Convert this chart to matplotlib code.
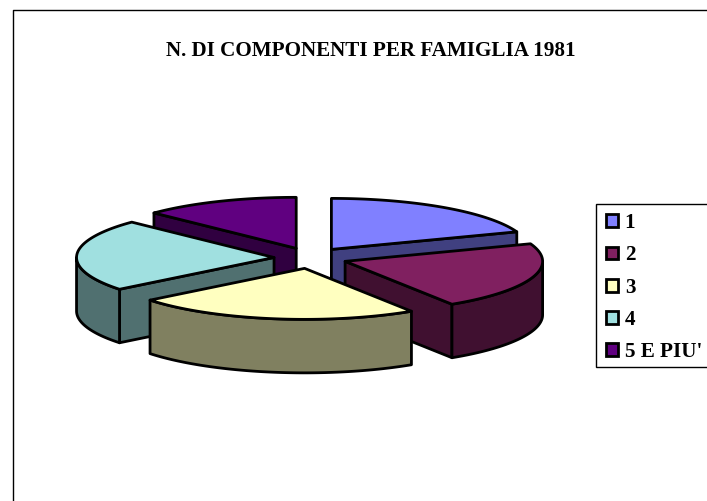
import numpy as np
import matplotlib
matplotlib.use("Agg")
import matplotlib.pyplot as plt
from matplotlib.patches import Polygon, Rectangle

title = "N. DI COMPONENTI PER FAMIGLIA 1981"
categories = ["1", "2", "3", "4", "5 E PIU'"]
values = [19.4, 21.5, 23.4, 22.9, 12.8]
top_colors = ["#8080FF", "#802060", "#FFFFC0", "#A0E0E0", "#600080"]
side_colors = ["#404080", "#401030", "#808060", "#507070", "#300040"]

CX, CY = 310.5, 258.0
RX, RY = 197.5, 51.0
EX, EY = 36.5, 10.5
DEPTH = 53.5
LW = 2.0
FS = 15.2

plt.rcParams["font.family"] = ["Liberation Serif", "DejaVu Serif"]
fig = plt.figure(figsize=(7.07, 5.01), dpi=100, facecolor="white")
ax = fig.add_axes([0, 0, 1, 1])
ax.set_xlim(0, 707)
ax.set_ylim(501, 0)
ax.axis("off")

# outer frame (runs off the right and bottom edges)
ax.plot([13.0, 13.0, 720], [520, 10.0, 10.0], color="black", lw=1.0, clip_on=False)
ax.text(370.5, 50.5, title, ha="center", va="center", fontsize=FS, fontweight="bold")


def pt(t, cx, cy, r=1.0, dz=0.0):
    return cx + RX * r * np.sin(t), cy - RY * r * np.cos(t) + dz


def poly(xs, ys, color, z):
    ax.add_patch(Polygon(np.column_stack([xs, ys]), closed=True, facecolor=color,
                         edgecolor="black", lw=LW, joinstyle="round", zorder=z))


edges = np.radians(np.cumsum([0] + values) / sum(values) * 360)
slices = []
for i in range(len(values)):
    t0, t1 = edges[i], edges[i + 1]
    mid = (t0 + t1) / 2
    cx = CX + EX * np.sin(mid)
    cy = CY - EY * np.cos(mid)
    slices.append((-np.cos(mid), i, t0, t1, cx, cy))

# painter's order, back to front
for order, (_, i, t0, t1, cx, cy) in enumerate(sorted(slices)):
    base = 10 * (order + 1)
    # visible radial cut faces
    for t, normal in ((t0, t0 - np.pi / 2), (t1, t1 + np.pi / 2)):
        if np.cos(normal) < -1e-6:
            rx, ry = pt(t, cx, cy)
            poly([cx, rx, rx, cx], [cy, ry, ry + DEPTH, cy + DEPTH], side_colors[i], base)
    # visible outer wall (front half of the rim)
    a, b = max(t0, np.pi / 2), min(t1, 1.5 * np.pi)
    if b > a:
        ts = np.linspace(a, b, 80)
        xs, ys = pt(ts, cx, cy)
        poly(np.r_[xs, xs[::-1]], np.r_[ys, (ys + DEPTH)[::-1]], side_colors[i], base + 1)
    # top face
    ts = np.linspace(t0, t1, 120)
    xs, ys = pt(ts, cx, cy)
    poly(np.r_[cx, xs], np.r_[cy, ys], top_colors[i], base + 2)

# legend box (runs off the right edge), legend itself is frameless on top of it
ax.add_patch(Rectangle((596, 204), 130, 163, facecolor="white", edgecolor="black",
                       lw=1.0, zorder=190, clip_on=True))
handles = [Rectangle((0, 0), 1, 1, facecolor=c, edgecolor="black", lw=LW) for c in top_colors]
leg = ax.legend(handles, categories, loc="upper left",
                bbox_to_anchor=(596 / 707, 1 - 203 / 501), bbox_transform=fig.transFigure,
                borderaxespad=0, frameon=False,
                prop={"size": FS, "weight": "bold"}, handlelength=0.55, handleheight=0.55,
                handletextpad=0.33, labelspacing=0.58, borderpad=0.48)
leg.set_zorder(200)

fig.savefig("out.png", dpi=100, facecolor="white")
